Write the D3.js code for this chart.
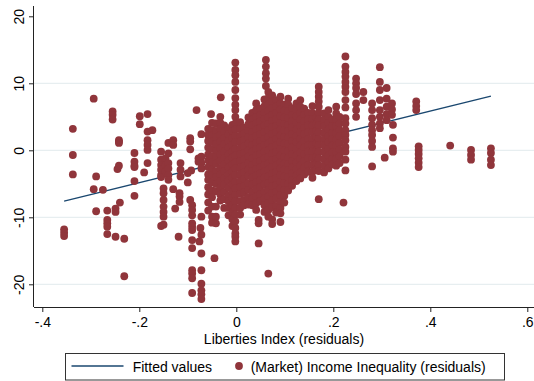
<!DOCTYPE html>
<html>
<head>
<meta charset="utf-8">
<script src="https://cdn.jsdelivr.net/npm/d3@7"></script>
<style>
  body { margin: 0; background: #fff; }
  svg { display: block; font-family: "Liberation Sans", Arial, Helvetica, sans-serif; }
</style>
</head>
<body>
<svg id="chart" width="534" height="381"></svg>
<script>
// residual pairs, grouped into vertical stacks (one x, many y)
const stackX = [
  -0.355, -0.337, -0.294, -0.289, -0.275, -0.266, -0.255, -0.249, -0.245, -0.242,
  -0.24, -0.231, -0.21, -0.199, -0.19, -0.183, -0.173, -0.155, -0.15, -0.146,
  -0.14, -0.13, -0.126, -0.119, -0.117, -0.115, -0.1, -0.095, -0.093, -0.091,
  -0.082, -0.078, -0.076, -0.074, -0.072, -0.052, -0.045, -0.032,
  // dense middle
  -0.058, -0.05, -0.042, -0.033, -0.025, -0.016, -0.008, -0.002, 0.008, 0.016,
  0.025, 0.033, 0.041, 0.046, 0.049, 0.058, 0.061, 0.066, 0.074, 0.082,
  0.091, 0.099, 0.107, 0.115, 0.124, 0.132, 0.14, 0.148, 0.157, 0.165,
  0.17, 0.181, 0.19, 0.198, 0.206, 0.213,
  // right side
  0.221, 0.225, 0.247, 0.262, 0.28, 0.296, 0.306, 0.31, 0.321, 0.323,
  0.371, 0.376, 0.441, 0.484, 0.525
];
const stackY = [
  [-11.8, -12.3, -12.8],
  [3.2, -0.7, -3.6],
  [7.7, -5.8],
  [-3.9, -9.1],
  [-5.9],
  [-9.0, -10.4, -10.9, -11.4, -12.5],
  [5.8, 5.3, 4.6],
  [-8.7, -9.2, -12.9],
  [-2.8],
  [1.5, 1.3, 1.1, -2.3],
  [-7.8],
  [-13.2, -18.8],
  [-0.4, -1.7, -2.3, -2.5, -4.6, -6.8],
  [5.1, 3.9],
  [-3.3],
  [5.4, 2.8, 1.5, 0.8, 0.05, -1.9],
  [3.0],
  [-0.2, -1.4, -2.2, -2.9, -3.7, -4.0, -11.3],
  [-5.7, -6.4, -7.4, -8.4, -9.2, -9.9, -11.1],
  [-1.2, -2.2, -3.2],
  [1.1, -0.45, -1.9, -2.7, -3.7, -4.4],
  [1.5, 0.8, -5.8],
  [-8.7],
  [-12.9],
  [-6.4, -6.9, -7.7],
  [-1.9, -2.9, -3.9],
  [-3.4, -4.8],
  [0.15, 1.3, 1.8, -7.4],
  [-3.0],
  [-8.2, -8.9, -9.7, -10.9, -11.4, -11.9, -13.4, -14.6, -17.9, -18.4, -19.1, -21.3],
  [6.0],
  [-1.2, -1.7],
  [-13.6],
  [-11.6],
  [2.4, -0.95, -1.9, -2.7, -9.9, -12.6, -15.4, -17.9, -19.9, -20.9, -21.5, -22.2],
  [5.4],
  [-16.1],
  [7.9],
  // dense middle
  [3.2, 2.3, 1.4, 0.4, -0.6, -1.5, -2.5, -3.6, -4.4, -5.5, -6.6, -7.8, -9.0],
  [4.1, 3.0, 2.2, 1.3, 0.2, -0.9, -1.8, -2.9, -3.7, -4.8, -6.0, -7.0, -8.4, -9.9, -10.8],
  [4.0, 2.9, 1.9, 0.9, -0.1, -1.0, -2.0, -3.1, -4.0, -5.0, -6.1, -8.4, -9.9, -10.9],
  [5.0, 4.1, 3.2, 2.3, 1.3, 0.3, -0.6, -1.6, -2.7, -3.6, -4.6, -5.6, -6.6, -7.5],
  [3.7, 2.8, 1.8, 0.9, -0.2, -1.2, -2.1, -3.1, -4.2, -5.1, -6.2, -7.3, -8.6],
  [3.3, 2.4, 1.4, 0.4, -0.6, -1.5, -2.6, -3.6, -4.5, -5.6, -6.7, -7.6, -8.6, -9.7],
  [3.8, 2.9, 1.8, 0.8, -0.2, -1.1, -2.1, -3.2, -4.1, -5.1, -6.2, -7.1, -8.2, -9.3, -10.3, -11.3],
  [13.1, 12.0, 11.2, 10.2, 9.0, 7.8, 6.8, 6.0, 5.0, 4.0, 3.1, 2.1, 1.2, 0.2, -0.8, -1.8, -2.7, -3.7, -4.7, -5.7, -6.7, -7.6, -8.6, -9.6, -10.6, -11.6, -12.4, -12.9, -13.6],
  [4.2, 3.2, 2.2, 1.3, 0.3, -0.6, -1.6, -2.6, -3.6, -4.6, -5.5, -6.5, -7.6, -8.6, -9.6],
  [3.4, 2.5, 1.5, 0.6, -0.4, -1.4, -2.4, -3.3, -4.3, -5.3, -6.3, -7.4, -8.2],
  [4.9, 3.9, 2.9, 2.0, 1.0, 0.0, -0.9, -1.9, -2.9, -3.8, -4.9, -5.9, -7.0, -8.1],
  [5.6, 4.6, 3.7, 2.7, 1.8, 0.8, -0.2, -1.2, -2.2, -3.1, -4.1, -5.1, -6.2, -7.2, -8.2],
  [7.0, 6.0, 5.0, 4.0, 3.1, 2.1, 1.1, 0.2, -0.8, -1.8, -2.8, -3.8, -4.8, -5.8, -6.9, -7.9, -8.9],
  [-10.4, -10.9, -13.9],
  [6.2, 5.2, 4.3, 3.3, 2.4, 1.4, 0.4, -0.6, -1.6, -2.6, -3.5, -4.5, -5.5, -6.6, -7.6],
  [7.6, 6.6, 5.6, 4.7, 3.7, 2.7, 1.7, 0.8, -0.2, -1.2, -2.2, -3.2, -4.1, -5.1, -6.2, -7.2, -8.2, -9.2],
  [13.5, 12.5, 11.5, 10.7, 9.6],
  [8.7, 7.8, 6.8, 5.9, 4.9, 3.9, 3.0, 2.0, 1.0, 0.0, -1.0, -2.0, -2.9, -3.9, -4.9, -5.9, -6.9, -7.9, -8.9, -9.9, -18.4],
  [8.2, 7.2, 6.3, 5.3, 4.4, 3.4, 2.4, 1.4, 0.5, -0.5, -1.5, -2.5, -3.5, -4.4, -5.4, -6.4, -7.5, -8.5, -10.3, -11.0],
  [7.5, 6.5, 5.6, 4.6, 3.6, 2.7, 1.7, 0.7, -0.3, -1.3, -2.3, -3.3, -4.2, -5.2, -6.2, -7.2, -8.3, -9.3],
  [8.0, 7.0, 6.1, 5.1, 4.1, 3.1, 2.2, 1.2, 0.2, -0.8, -1.8, -2.7, -3.7, -4.7, -5.7, -6.7, -7.7, -8.6, -9.4, -10.7],
  [6.8, 5.9, 4.9, 3.9, 3.0, 2.0, 1.0, 0.0, -1.0, -2.0, -2.9, -3.9, -4.9, -5.9, -6.8, -7.8],
  [7.7, 6.8, 5.8, 4.8, 3.8, 2.9, 1.9, 0.9, -0.1, -1.1, -2.1, -3.0, -4.0, -5.0, -6.0],
  [6.3, 5.3, 4.3, 3.4, 2.4, 1.4, 0.4, -0.6, -1.6, -2.6, -3.5, -4.5, -5.3],
  [7.0, 6.0, 5.1, 4.1, 3.1, 2.1, 1.2, 0.2, -0.8, -1.8, -2.8, -3.8, -4.6],
  [7.5, 6.5, 5.6, 4.6, 3.6, 2.7, 1.7, 0.7, -0.3, -1.3, -2.3, -3.3, -4.2],
  [6.2, 5.3, 4.3, 3.3, 2.4, 1.4, 0.4, -0.6, -1.6, -2.6, -3.6],
  [5.6, 4.6, 3.7, 2.7, 1.7, 0.7, -0.2, -1.2, -2.2, -3.2],
  [6.6, 5.6, 4.6, 3.7, 2.7, 1.7, 0.8, -0.2, -1.2, -2.2, -3.2, -4.1],
  [4.9, 3.9, 2.9, 2.0, 1.0, 0.0, -1.0, -2.0, -2.9],
  [9.5, 8.7, 8.0, 7.3, 6.5, 5.6, 4.6, 3.7, 2.7, 1.7, 0.8, -0.2, -1.2, -2.2, -3.1, -7.3],
  [5.5, 4.5, 3.6, 2.6, 1.6, 0.7, -0.3, -1.3, -2.3, -3.3],
  [6.0, 5.0, 4.1, 3.1, 2.1, 1.2, 0.2, -0.8, -1.8, -2.7],
  [4.6, 3.6, 2.6, 1.7, 0.7, -0.3, -1.3, -2.1],
  [6.5, 5.5, 4.5, 3.6, 2.6, 1.6, 0.7, -0.3, -1.3, -2.3],
  [5.0, 4.0, 3.0, 2.1, 1.1, 0.1, -0.9, -1.9],
  // right side
  [-7.8],
  [14.0, 12.5, 11.7, 11.0, 10.2, 9.5, 8.7, 7.5, 6.4, 4.8, 4.0, 3.0, 2.3, 1.5, 0.5, -0.2, -1.4, -3.0],
  [10.7, 10.0, 9.3, 8.4, 7.0, 6.0, 5.0],
  [8.7, 7.5],
  [7.0, 6.0, 4.8, 3.8, 3.0, 2.3, 1.4, 0.5, -2.4],
  [12.4, 10.2, 9.0, 7.5, 6.0, 5.0, 4.0, 3.3],
  [-1.1],
  [9.3, 7.7, 6.5, 5.4, 4.5],
  [7.0, 6.1, 5.3],
  [3.8, 1.9, 0.3, -0.2],
  [7.3, 6.6, 6.0],
  [0.6, 0.05, -0.55, -1.2, -1.85, -2.5],
  [0.7],
  [0.05, -0.7, -1.4],
  [0.3, -0.4, -1.4, -2.2]
];

// fitted values at min and max x
const fitX = [-0.355, 0.525];
const fitY = [-7.6, 8.07];

const xTicks = [-0.4, -0.2, 0, 0.2, 0.4, 0.6];
const xTickLabels = ["-.4", "-.2", "0", ".2", ".4", ".6"];
const yTicks = [-20, -10, 0, 10, 20];
const yGrid = [-20, -10, 0, 10];
const legendLabels = ["Fitted values", "(Market) Income Inequality (residuals)"];

const maroon = "#90353b";
const navy = "#1a476f";
const fontSize = 14;

const svg = d3.select("#chart");
const plot = { left: 34, right: 534, top: 6, bottom: 307 };

const x = d3.scaleLinear().domain([-0.4, 0.6]).range([42.3, 527.3]);
const y = d3.scaleLinear().domain([-20, 20]).range([284.3, 16.3]);

const points = [];
stackX.forEach((xv, i) => stackY[i].forEach(yv => points.push([xv, yv])));

// grid
svg.append("g").selectAll("line")
  .data(yGrid).enter().append("line")
  .attr("x1", plot.left).attr("x2", plot.right)
  .attr("y1", d => y(d)).attr("y2", d => y(d))
  .attr("stroke", "#e1eaed").attr("stroke-width", 1);

// fitted line (drawn first, like stata)
svg.append("path")
  .datum(fitX.map((v, i) => [v, fitY[i]]))
  .attr("d", d3.line().x(d => x(d[0])).y(d => y(d[1])))
  .attr("fill", "none").attr("stroke", navy).attr("stroke-width", 1.3);

svg.append("g").selectAll("circle")
  .data(points).enter().append("circle")
  .attr("cx", d => x(d[0])).attr("cy", d => y(d[1]))
  .attr("r", 3.9)
  .attr("fill", maroon);

// axes
const xAxis = d3.axisBottom(x).tickValues(xTicks).tickSize(5)
  .tickFormat((d, i) => xTickLabels[i]);
const gx = svg.append("g").attr("transform", `translate(0,${plot.bottom})`).call(xAxis);
gx.select(".domain").attr("d", `M${plot.left},0.5H${plot.right}`);
gx.selectAll("line").attr("stroke", "#222");
gx.select(".domain").attr("stroke", "#222");
gx.selectAll("text").attr("font-size", fontSize).attr("fill", "#000")
  .attr("font-family", "Liberation Sans, Arial, sans-serif").attr("dy", null).attr("y", 19.8);

const yAxis = d3.axisLeft(y).tickValues(yTicks).tickSize(5).tickFormat(d => d);
const gy = svg.append("g").attr("transform", `translate(${plot.left},0)`).call(yAxis);
gy.select(".domain").attr("d", `M-0.5,${plot.top}V${plot.bottom}`).attr("stroke", "#222");
gy.selectAll("line").attr("stroke", "#222");
gy.selectAll("text")
  .attr("font-size", fontSize).attr("fill", "#000")
  .attr("font-family", "Liberation Sans, Arial, sans-serif")
  .attr("x", null).attr("dy", null)
  .attr("text-anchor", "middle")
  .attr("transform", "translate(-10.5,0) rotate(-90)");

// x title
svg.append("text")
  .attr("x", (plot.left + plot.right) / 2).attr("y", 344)
  .attr("text-anchor", "middle").attr("font-size", fontSize)
  .text("Liberties Index (residuals)");

// legend
const lg = svg.append("g");
lg.append("rect").attr("x", 65.5).attr("y", 353.5).attr("width", 439).attr("height", 26.5)
  .attr("fill", "#fff").attr("stroke", "#333").attr("stroke-width", 1);
lg.append("line").attr("x1", 71.5).attr("x2", 123.5).attr("y1", 366).attr("y2", 366)
  .attr("stroke", navy).attr("stroke-width", 1.3);
lg.append("text").attr("x", 132.7).attr("y", 371.5).attr("font-size", fontSize).text(legendLabels[0]);
lg.append("circle").attr("cx", 239).attr("cy", 366).attr("r", 3.9).attr("fill", maroon);
lg.append("text").attr("x", 250.7).attr("y", 371.5).attr("font-size", fontSize).text(legendLabels[1]);
</script>
</body>
</html>
